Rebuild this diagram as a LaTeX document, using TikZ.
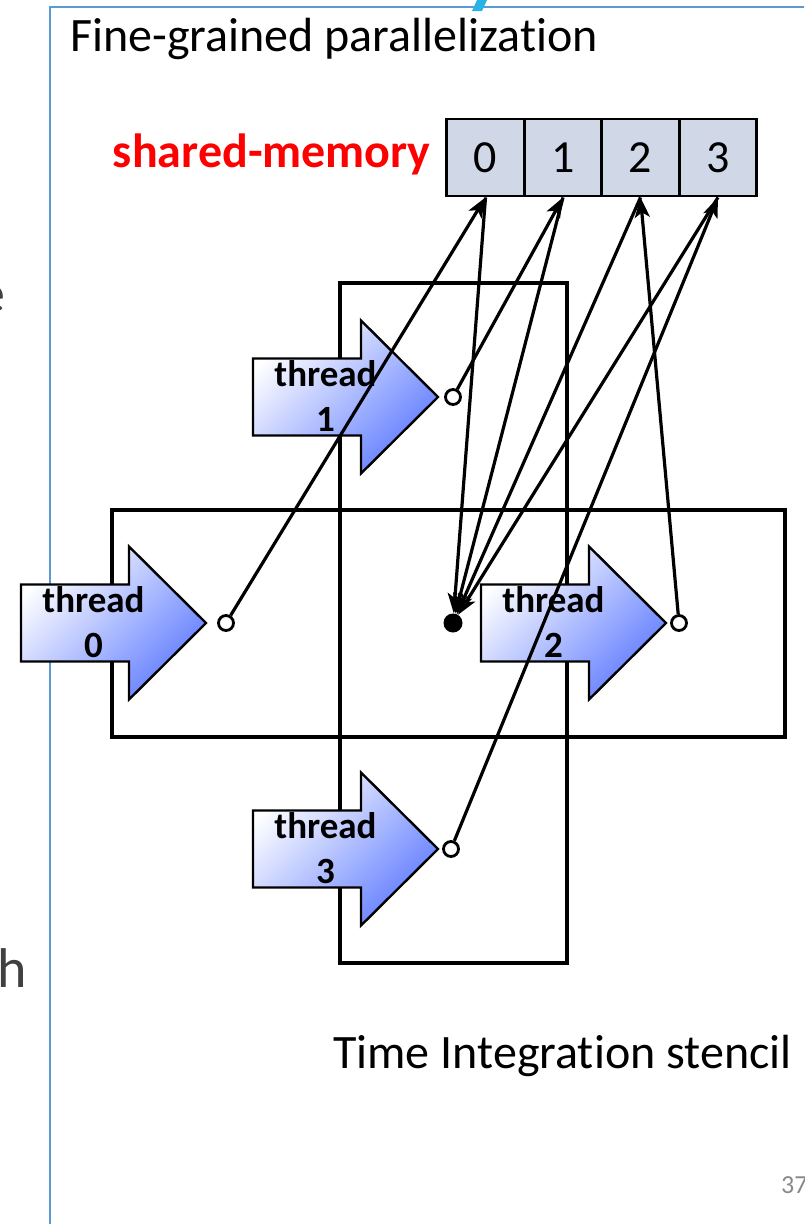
\documentclass[tikz,border=0pt]{standalone}
\usepackage{fontspec}
\setmainfont{Carlito}[Ligatures={NoCommon,NoRare,NoContextual}]
\usetikzlibrary{arrows.meta,calc}
\definecolor{framecol}{RGB}{91,155,213}
\definecolor{memfill}{RGB}{208,216,232}
\definecolor{arrblue}{RGB}{96,124,255}
\definecolor{cyanmark}{RGB}{41,178,228}
\definecolor{pagegray}{RGB}{137,137,137}
\definecolor{bodygray}{RGB}{64,64,64}
\definecolor{memred}{RGB}{255,0,0}
\tikzset{
  memcell/.style={draw=black, line width=2.8pt, fill=memfill, minimum width=77.5pt, minimum height=77pt, inner sep=0pt, font=\fontsize{46}{50}\selectfont},
  stencilbox/.style={draw=black, line width=3.4pt},
  conn/.style={line width=3.2pt, -{Stealth[length=20pt,width=15pt,inset=5pt]}},
  opendot/.style={circle, draw=black, fill=white, line width=2.8pt, minimum size=15pt, inner sep=0pt},
  filldot/.style={circle, fill=black, minimum size=19pt, inner sep=0pt},
  threadarrow/.style={draw=black, line width=2.4pt, top color=white, bottom color=arrblue, shading angle=45},
  threadlabel/.style={font=\bfseries\fontsize{37}{45}\selectfont, inner sep=0pt, anchor=base},
  framestroke/.style={draw=framecol, line width=2pt},
}
\newcommand\threadarr[2]{%
  \path[threadarrow] (#1,#2-38.5) -- (#1+108,#2-38.5) -- (#1+108,#2-76.5) -- (#1+185,#2)
    -- (#1+108,#2+76.5) -- (#1+108,#2+38.5) -- (#1,#2+38.5) -- cycle;}
\begin{document}
\begin{tikzpicture}[x=1pt,y=-1pt]
\useasboundingbox (0,0) rectangle (804,1224);
\fill[white] (0,0) rectangle (804,1224);
\clip (0,0) rectangle (804,1224);

% slide frame and fragments
\draw[framestroke] (810,7) -- (50,7) -- (50,1230);
\fill[cyanmark] (477,0) -- (487,0) -- (482,11) -- (472,11) -- cycle;
\node[anchor=base east, inner sep=0pt, text=bodygray, font=\fontsize{56}{60}\selectfont] (frage) at (6,312) {e};
\node[anchor=base west, inner sep=0pt, text=bodygray, font=\fontsize{56}{60}\selectfont] (fragh) at (-3,987) {h};
\node[anchor=base west, inner sep=0pt, text=pagegray, font=\fontsize{26}{30}\selectfont] (pagenum) at (781,1193) {37};

% title and caption
\node[anchor=base west, inner sep=0pt, font=\fontsize{48}{56}\selectfont] (title) at (70,51) {Fine-grained parallelization};
\node[anchor=base west, inner sep=0pt, font=\fontsize{48}{56}\selectfont] (caption) at (333,1068) {Time Integration stencil};

% shared memory
\node[memcell] (m0) at (485.5,157.5) {0};
\node[memcell] (m1) at (563,157.5) {1};
\node[memcell] (m2) at (640.5,157.5) {2};
\node[memcell] (m3) at (718,157.5) {3};
\node[anchor=base east, inner sep=0pt, text=memred, font=\bfseries\fontsize{48}{54}\selectfont] (smlabel) at (431,167) {shared-memory};

% stencil rectangles
\draw[stencilbox] (340,283) rectangle (567,963);
\draw[stencilbox] (112,510) rectangle (785,737);

% thread arrows
\threadarr{21}{623}
\threadarr{253}{397}
\threadarr{481}{623}
\threadarr{253}{849}

\node[threadlabel] (t0a) at (93.5,612) {thread};
\node[threadlabel] (t0b) at (93.5,657) {0};
\node[threadlabel] (t1a) at (325.5,386) {thread};
\node[threadlabel] (t1b) at (325.5,431) {1};
\node[threadlabel] (t2a) at (553.5,612) {thread};
\node[threadlabel] (t2b) at (553.5,657) {2};
\node[threadlabel] (t3a) at (325.5,838) {thread};
\node[threadlabel] (t3b) at (325.5,883) {3};

% points
\node[opendot] (c0) at (226,623) {};
\node[opendot] (c1) at (453,397) {};
\node[opendot] (c2) at (679,623) {};
\node[opendot] (c3) at (451,849) {};
\node[filldot] (dot) at (453,623) {};

% writes to shared memory
\draw[conn] (c0) -- (m0.south);
\draw[conn] (c1) -- (m1.south);
\draw[conn] (c2) -- (m2.south);
\draw[conn] (c3) -- (m3.south);

% reads from shared memory
\draw[conn] (m0.south) -- (dot);
\draw[conn] (m1.south) -- (dot);
\draw[conn] (m2.south) -- (dot);
\draw[conn] (m3.south) -- (dot);
\end{tikzpicture}
\end{document}
